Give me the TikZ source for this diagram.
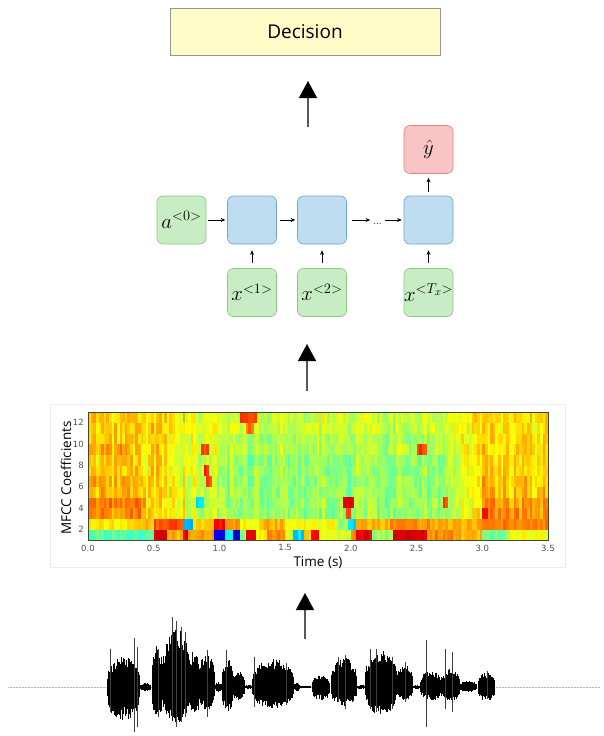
\documentclass[tikz,border=0pt]{standalone}
\usepackage[no-math]{fontspec}
\newfontfamily\osans{Open Sans}
\newfontfamily\dvs{DejaVu Sans}
\usetikzlibrary{arrows.meta}
\definecolor{gfill}{RGB}{200,236,196}
\definecolor{gdraw}{RGB}{140,200,130}
\definecolor{bfill}{RGB}{190,221,240}
\definecolor{bdraw}{RGB}{110,165,205}
\definecolor{rfill}{RGB}{248,196,196}
\definecolor{rdraw}{RGB}{225,130,130}
\definecolor{decfill}{RGB}{255,252,200}
\definecolor{decdraw}{RGB}{150,150,150}
\definecolor{framec}{RGB}{70,70,50}
\definecolor{tickc}{RGB}{80,80,80}
\newcommand\jcell[3]{%
  \pgfmathsetmacro\jR{max(0,min(1,1.5-abs(4*(#3)-3)))}%
  \pgfmathsetmacro\jG{max(0,min(1,1.5-abs(4*(#3)-2)))}%
  \pgfmathsetmacro\jB{max(0,min(1,1.5-abs(4*(#3)-1)))}%
  \definecolor{jc}{rgb}{\jR,\jG,\jB}%
  \fill[jc] ({88+(#1)*2.628571},{540-((#2)-1)*10.666667+0.2}) rectangle ({88+((#1)+1)*2.628571+0.35},{540-(#2)*10.666667});%
}
\begin{document}
\begin{tikzpicture}[x=1pt,y=-1pt,
  box/.style={draw, rounded corners=6pt, minimum width=49pt, minimum height=48pt, inner sep=0pt, line width=0.6pt, font=\fontsize{21}{24}\selectfont},
  gbox/.style={box, fill=gfill, draw=gdraw},
  bbox/.style={box, fill=bfill, draw=bdraw},
  rbox/.style={box, fill=rfill, draw=rdraw},
  decbox/.style={draw=decdraw, fill=decfill, line width=0.8pt, minimum width=270pt, minimum height=47pt, inner sep=0pt, font=\osans\fontsize{19}{22}\selectfont},
  smallarr/.style={-{Stealth[length=4.5pt,width=4pt]}, line width=0.7pt, black},
  bigarr/.style={-{Triangle[length=17pt,width=18pt,black]}, line width=1.4pt, black!65},
  tick/.style={font=\dvs\fontsize{8.5}{10}\selectfont, text=tickc, inner sep=1pt},
  axlab/.style={font=\osans\fontsize{13.5}{16}\selectfont, inner sep=0pt}
]
\useasboundingbox (0,0) rectangle (604,736);
\fill[white] (0,0) rectangle (604,736);

% ---------- Decision ----------
\node[decbox] (dec) at (305,31.5) {Decision};
\coordinate (a1s) at (308,127);
\coordinate (a1e) at (308,81);
\draw[bigarr] (a1s) -- (a1e);

% ---------- RNN ----------
\node[gbox] (a0) at (181.5,220) {$a^{<0>}$};
\node[bbox] (h1) at (252,220) {};
\node[bbox] (h2) at (322,220) {};
\node[bbox] (h3) at (428.5,220) {};
\node[rbox] (yh) at (428.5,149.5) {$\hat{y}$};
\node[gbox] (x1) at (252,292.5) {$x^{<1>}$};
\node[gbox] (x2) at (322,292.5) {$x^{<2>}$};
\node[gbox] (x3) at (428.5,292.5) {$x^{<T_x>}$};
\node[inner sep=0pt, font=\fontsize{10}{12}\selectfont] (dots) at (377.5,224) {...};

\draw[smallarr, shorten <=2pt, shorten >=2pt] (a0) -- (h1);
\draw[smallarr, shorten <=3pt, shorten >=2pt] (h1) -- (h2);
\draw[smallarr, shorten <=5pt, shorten >=3pt] (h2.east) -- (dots.west |- h2.east);
\draw[smallarr, shorten <=3pt, shorten >=2pt] (dots.east |- h3.west) -- (h3.west);
\draw[smallarr, shorten <=5pt, shorten >=6pt] (x1) -- (h1);
\draw[smallarr, shorten <=5pt, shorten >=6pt] (x2) -- (h2);
\draw[smallarr, shorten <=5pt, shorten >=6pt] (x3) -- (h3);
\draw[smallarr, shorten <=4pt, shorten >=4pt] (h3) -- (yh);

\coordinate (a2s) at (307,391);
\coordinate (a2e) at (307,344);
\draw[bigarr] (a2s) -- (a2e);

% ---------- MFCC plot ----------
\draw[black!8, line width=0.6pt] (50,404) rectangle (565,567);
\pgfmathsetseed{11}
\begin{scope}
\clip (88,412) rectangle (548,540);
\foreach \i in {0,...,174}{
  \pgfmathsetmacro\tm{(\i+0.5)*0.02}
  \pgfmathsetmacro\cn{0.04*rand}
  \pgfmathsetmacro\gt{min(1,max(0,(\tm-0.55)/0.55))*min(1,max(0,(3.0-\tm)/0.3))}
  \foreach \r in {3,...,12}{
    \pgfmathsetmacro\hr{(\r<9)*1+(\r>8)*(\r<11)*0.8+(\r>10)*0.6}
    \pgfmathsetmacro\eb{((\r<5)*0.07+(\r>4)*(\r<7)*0.03)*((\tm<0.45)+(\tm>3.0))+(\r==9)*(\tm<0.3)*0.06}
    \pgfmathsetmacro\vv{0.655-0.13*\gt*\hr+\eb+\cn+0.045*rand}
    \jcell{\i}{\r}{\vv}
  }
}
\foreach \a/\b/\r/\val in {
 0.0/0.5/1/0.46, 0.5/0.6/1/0.9, 0.6/0.72/1/0.7, 0.72/0.76/1/0.88, 0.76/0.96/1/0.73,
 0.96/1.04/1/0.1, 1.04/1.1/1/0.4, 1.1/1.16/1/0.1, 1.16/1.2/1/0.5, 1.2/1.28/1/0.9,
 1.28/1.36/1/0.62, 1.36/1.5/1/0.74, 1.5/1.56/1/0.6, 1.56/1.64/1/0.33, 1.64/1.7/1/0.68,
 1.7/1.76/1/0.9, 1.76/2.0/1/0.58, 2.0/2.04/1/0.75, 2.04/2.16/1/0.89, 2.16/2.32/1/0.52,
 2.32/2.58/1/0.9, 2.58/2.8/1/0.74, 2.8/3.0/1/0.7, 3.0/3.2/1/0.5, 3.2/3.5/1/0.62,
 0.0/0.3/2/0.64, 0.3/0.5/2/0.69, 0.5/0.72/2/0.8, 0.72/0.8/2/0.3, 0.8/0.96/2/0.66,
 0.96/1.04/2/0.88, 1.04/1.16/2/0.73, 1.16/1.3/2/0.62, 1.3/1.5/2/0.7, 1.5/1.9/2/0.62,
 1.9/1.98/2/0.52, 1.98/2.04/2/0.33, 2.04/2.3/2/0.7, 2.3/2.6/2/0.73, 2.6/3.0/2/0.7,
 3.0/3.5/2/0.75,
 0.82/0.88/4/0.33, 0.84/0.88/3/0.5, 1.94/2.02/4/0.9, 1.96/2.0/3/0.8,
 1.16/1.28/12/0.8, 1.2/1.26/11/0.76, 0.86/0.92/9/0.8, 0.88/0.92/7/0.84,
 0.9/0.94/6/0.8, 2.5/2.58/9/0.82, 3.0/3.04/3/0.88, 2.7/2.74/4/0.8}{
  \pgfmathtruncatemacro\ca{round(\a/0.02)}
  \pgfmathtruncatemacro\cb{round(\b/0.02)-1}
  \foreach \k in {\ca,...,\cb}{
    \pgfmathsetmacro\vv{\val+0.035*rand}
    \jcell{\k}{\r}{\vv}
  }
}
\end{scope}
\draw[framec, line width=0.9pt] (88,412) rectangle (548,540);
\foreach \lab [count=\n from 0] in {0.0,0.5,1.0,1.5,2.0,2.5,3.0,3.5}
  \node[tick, anchor=north] at ({88+\n*65.714286},543.5) {\lab};
\foreach \c in {2,4,...,12}
  \node[tick, anchor=east] at (85,{540-(\c-1)*10.666667}) {\c};
\node[axlab, rotate=90] (ylab) at (66,478) {MFCC Coefficients};
\node[axlab] (xlab) at (318,562.5) {Time (s)};

\coordinate (a3s) at (305,639);
\coordinate (a3e) at (305,593);
\draw[bigarr] (a3s) -- (a3e);

% ---------- Waveform ----------
\coordinate (wl) at (8,687);
\coordinate (wr) at (600,687);
\draw[black!30, densely dotted, line width=0.5pt] (wl) -- (wr);
\foreach \xa/\xb/\up/\dn in {
 107/140/30/34, 140/151/4/4, 152/163/42/30, 162/190/58/36, 189/200/38/28,
 198/215/34/24, 215/222/5/5, 222/233/30/25, 232/245/16/14, 245/252/2/2,
 252/294/28/22, 294/300/4/4, 300/311/1.5/1.5, 312/330/12/13, 331/357/30/19,
 357/365/2/2, 365/397/36/28, 396/413/22/14, 413/420/2/2, 420/443/16/14,
 442/460/18/14, 459/477/6/5, 478/495/15/15}{
  \pgfmathsetmacro\len{\xb-\xa}
  \pgfmathsetmacro\xs{\xa+0.6}
  \foreach \x in {\xa,\xs,...,\xb}{
    \pgfmathsetmacro\e{pow(abs(sin(180*(\x-\xa)/\len)),0.3)}
    \pgfmathsetmacro\u{\up*\e*(0.6+0.4*rnd)}
    \pgfmathsetmacro\d{\dn*\e*(0.6+0.4*rnd)}
    \draw[line width=0.9pt] (\x,687-\u) -- (\x,687+\d);
  }
}
\foreach \x/\u/\d in {110/38/25, 134/49/45, 137/40/40, 158/38/30, 172/70/30,
  176/66/40, 181/60/35, 185/55/30, 207/37/30, 226/37/20, 254/30/20, 286/24/18,
  338/30/15, 345/32/22, 370/38/22, 376/38/25, 392/30/22, 405/25/15, 426/47/40,
  445/38/22, 452/35/25, 487/16/12}
  \draw[line width=0.9pt, black!75] (\x,687-\u) -- (\x,687+\d);
\end{tikzpicture}
\end{document}
